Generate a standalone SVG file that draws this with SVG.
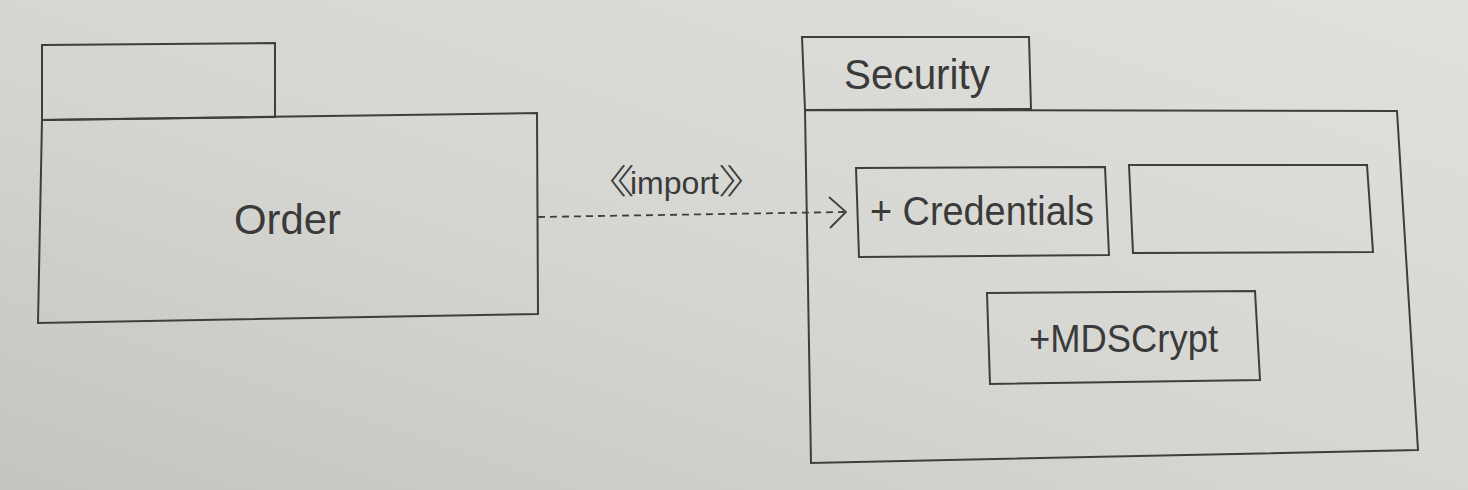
<svg xmlns="http://www.w3.org/2000/svg" width="1468" height="490" viewBox="0 0 1468 490">
  <defs>
    <linearGradient id="bg" x1="0" y1="1" x2="1" y2="0">
      <stop offset="0" stop-color="#c4c5c1"/>
      <stop offset="0.45" stop-color="#d5d6d2"/>
      <stop offset="1" stop-color="#e0e1dd"/>
    </linearGradient>
    <style>
      .shape { fill: none; stroke: #3e3e3e; stroke-width: 2; stroke-linejoin: miter; }
      .lbl { font-family: "Liberation Sans", Arial, sans-serif; fill: #3a3a3a; }
      .br { font-family: "Noto Sans CJK KR", "Noto Sans CJK SC", sans-serif; font-weight: 300; }
      .conn { fill: none; stroke: #3e3e3e; stroke-width: 1.8; }
      .dash { stroke-dasharray: 7 5; }
    </style>
  </defs>
  <rect x="0" y="0" width="1468" height="490" fill="url(#bg)"/>

  <g id="order">
    <polygon class="shape" points="42,45 275,43 275,117 42,120"/>
    <polygon class="shape" points="42,120 537,113 538,314 38,323"/>
    <text class="lbl" x="234" y="234" font-size="42" textLength="107" lengthAdjust="spacingAndGlyphs">Order</text>
  </g>

  <g id="security">
    <polygon class="shape" points="802,37 1029,37 1031,109 805,110"/>
    <polygon class="shape" points="805,110 1397,111 1418,450 811,463"/>
    <text class="lbl" x="844" y="89" font-size="42" textLength="146" lengthAdjust="spacingAndGlyphs">Security</text>
  </g>

  <g id="credentials">
    <polygon class="shape" points="856,168 1105,167 1109,255 859,257"/>
    <text class="lbl" x="870" y="225" font-size="40" textLength="224" lengthAdjust="spacingAndGlyphs">+ Credentials</text>
  </g>

  <g id="empty">
    <polygon class="shape" points="1129,165 1367,165 1373,252 1133,253"/>
  </g>

  <g id="mdscrypt">
    <polygon class="shape" points="987,293 1255,291 1260,380 990,384"/>
    <text class="lbl" x="1029" y="352" font-size="38" textLength="189" lengthAdjust="spacingAndGlyphs">+MDSCrypt</text>
  </g>

  <g id="connectors">
    <line class="conn dash" x1="538" y1="217" x2="844" y2="212"/>
    <polyline class="conn" points="829,197 846,212 830,228"/>
    <text class="lbl" y="194" font-size="32"><tspan class="br" x="583" font-size="34" textLength="52" lengthAdjust="spacingAndGlyphs">《</tspan><tspan x="630" textLength="89" lengthAdjust="spacingAndGlyphs">import</tspan><tspan class="br" x="718" font-size="34" textLength="52" lengthAdjust="spacingAndGlyphs">》</tspan></text>
  </g>
</svg>
